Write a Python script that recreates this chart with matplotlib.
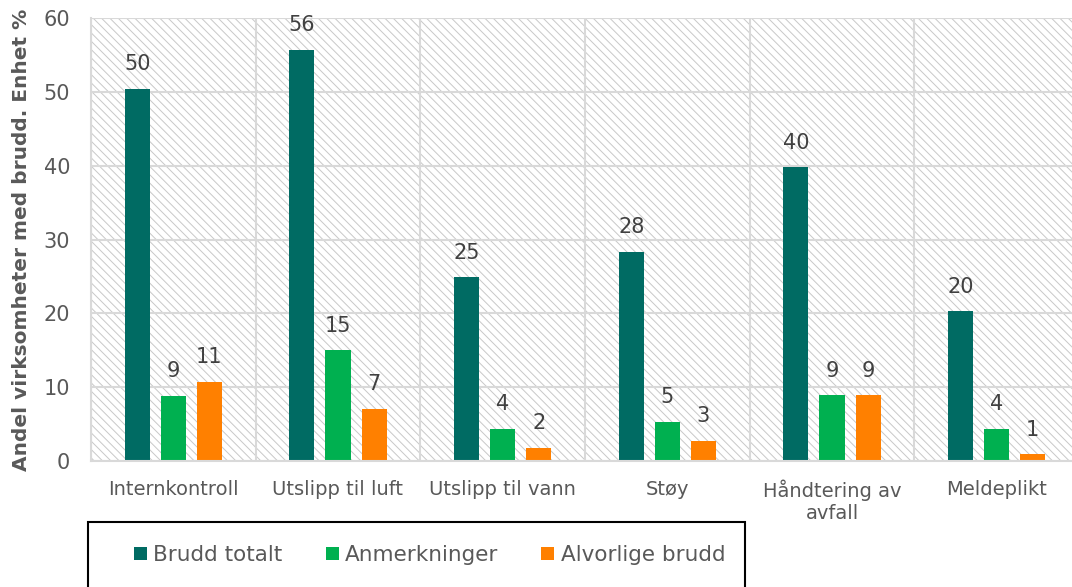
import numpy as np
import matplotlib
matplotlib.use('Agg')
import matplotlib.pyplot as plt
from matplotlib.patches import Rectangle

plt.rcParams['font.family'] = ['DejaVu Sans']
plt.rcParams['hatch.linewidth'] = 0.7

categories = ["Internkontroll", "Utslipp til luft", "Utslipp til vann",
              "Støy", "Håndtering av\navfall", "Meldeplikt"]
series_names = ["Brudd totalt", "Anmerkninger", "Alvorlige brudd"]
brudd_totalt = [50.4, 55.7, 24.9, 28.3, 39.8, 20.3]
anmerkninger = [8.8, 15.0, 4.4, 5.3, 8.9, 4.4]
alvorlige_brudd = [10.7, 7.1, 1.8, 2.7, 8.9, 0.9]
colors = ["#006B63", "#00B050", "#FF8000"]

fig = plt.figure(figsize=(10.72, 5.87), dpi=100)
ax = fig.add_axes([91 / 1072, 1 - 461 / 587, 988 / 1072, 443 / 587])

# hatched background
ax.add_patch(Rectangle((0, 0), 1, 1, transform=ax.transAxes, facecolor='white',
                       edgecolor='#c8c8c8', hatch='\\\\\\\\', lw=0, zorder=0))

x = np.arange(len(categories))
width = 0.152
pitch = 0.219
grid_c = '#d9d9d9'
for i, (vals, name) in enumerate(zip([brudd_totalt, anmerkninger, alvorlige_brudd], series_names)):
    bars = ax.bar(x + (i - 1) * pitch, vals, width, color=colors[i], label=name, zorder=2)
    ax.bar_label(bars, fmt='%.0f', padding=10.5, fontsize=15, color='#404040')

ax.set_xlim(-0.5, len(categories) - 0.5)
ax.set_ylim(0, 60)
ax.set_yticks(np.arange(0, 61, 10))
ax.set_xticks(x)
ax.set_xticklabels(categories, fontsize=14, color='#595959')
ax.set_xticks(np.arange(-0.5, len(categories), 1), minor=True)
ax.tick_params(axis='x', which='both', length=0, pad=13.5)
ax.tick_params(axis='y', length=0, pad=15, labelsize=15, labelcolor='#595959')

ax.set_axisbelow(True)
ax.grid(axis='y', color=grid_c, lw=1.5, zorder=1)
ax.grid(axis='x', which='minor', color=grid_c, lw=1.5, zorder=1)
ax.grid(axis='x', which='major', visible=False)
for s in ['top', 'right']:
    ax.spines[s].set_visible(False)
for s in ['left', 'bottom']:
    ax.spines[s].set_color(grid_c)
    ax.spines[s].set_linewidth(1.5)

ax.set_ylabel("Andel virksomheter med brudd. Enhet %", fontsize=14.5,
              fontweight='bold', color='#595959')
ax.yaxis.set_label_coords(-0.061, 0.5)

# legend box, running off the bottom of the figure
fig.patches.append(Rectangle((88 / 1072, -0.01), (745 - 88) / 1072, (587 - 522) / 587 + 0.01,
                             transform=fig.transFigure, fill=False, edgecolor='black',
                             lw=1.5, clip_on=False))
fig.legend(loc='center left', bbox_to_anchor=(134 / 1072, 1 - 555 / 587), ncol=3,
           frameon=False, fontsize=15.5, handlelength=0.6, handleheight=0.6,
           handletextpad=0.3, columnspacing=2.0, borderpad=0, borderaxespad=0,
           labelcolor='#595959')

fig.savefig('out.png', dpi=100)
